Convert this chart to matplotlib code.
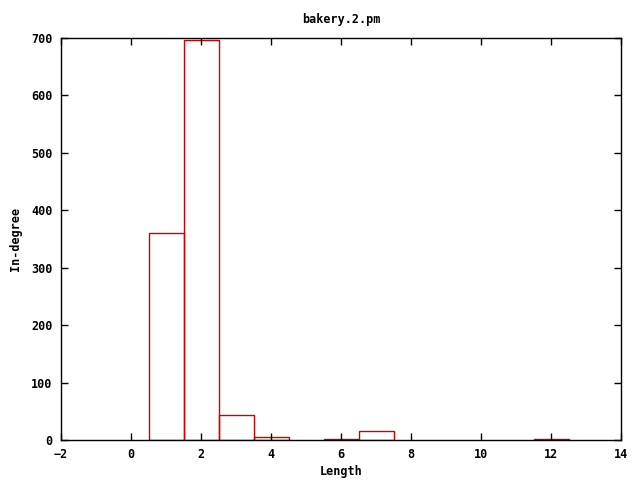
import matplotlib
matplotlib.use("Agg")
import matplotlib.pyplot as plt

# histogram of in-degree by path length
lengths = [1, 2, 3, 4, 6, 7, 12]
counts = [361, 696, 44, 5, 2, 16, 2]

plt.rcParams['font.family'] = ['DejaVu Sans Mono']
plt.rcParams['font.weight'] = 'bold'
plt.rcParams['font.size'] = 8.5

fig = plt.figure(figsize=(6.4, 4.8), dpi=100)
ax = fig.add_axes([61 / 640, 1 - 440 / 480, 560 / 640, 402 / 480])

ax.bar(lengths, counts, width=1.0, fill=False, edgecolor='#cc0000', linewidth=1.0)

ax.set_xlim(-2, 14)
ax.set_ylim(0, 700)
ax.set_xticks(range(-2, 15, 2))
ax.set_yticks(range(0, 701, 100))
ax.tick_params(direction='in', top=True, right=True, length=5, width=1, pad=6)
for s in ax.spines.values():
    s.set_linewidth(1)

ax.set_title('bakery.2.pm', fontsize=8.5, fontweight='bold', pad=11)
ax.set_xlabel('Length', fontweight='bold', labelpad=3)
ax.set_ylabel('In-degree', fontweight='bold', labelpad=7)

fig.savefig('out.png', dpi=100)
